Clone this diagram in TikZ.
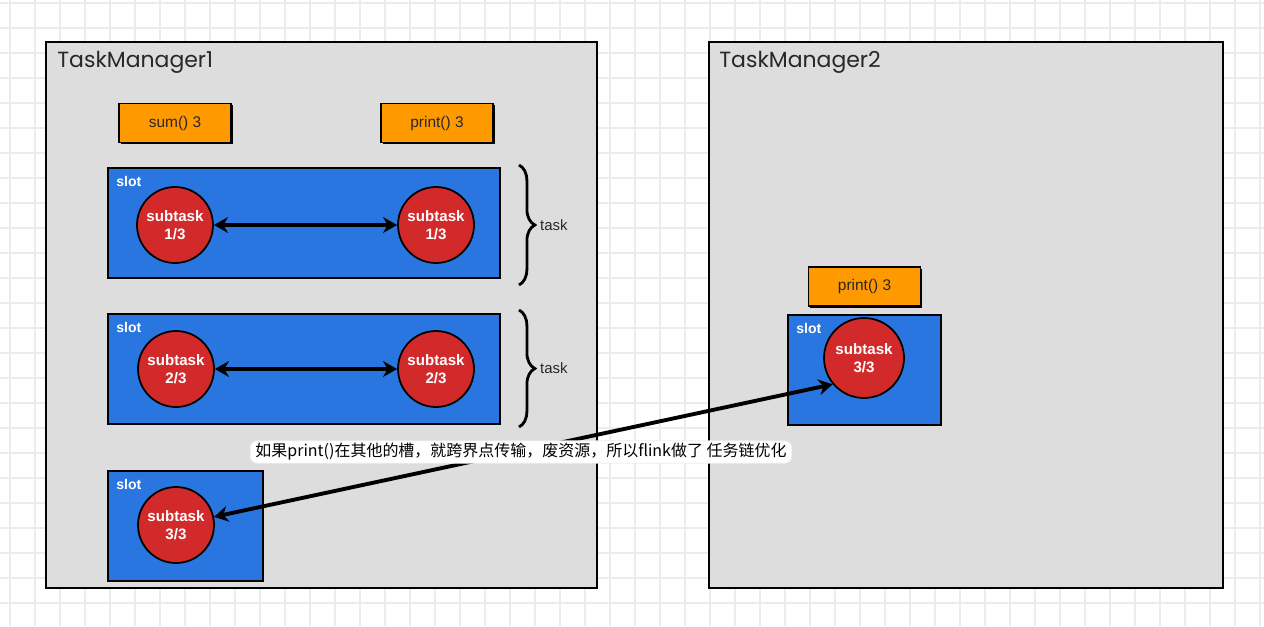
\documentclass[tikz,border=0pt]{standalone}
\usepackage{fontspec}
\setmainfont{Liberation Sans}
\newfontfamily\titlefont{Poppins}
\newfontfamily\cjk{Noto Sans CJK SC}
\usepackage{tikz}
\newcommand{\px}{0.02cm}
\definecolor{tmGray}{RGB}{221,221,221}
\definecolor{slotBlue}{RGB}{41,118,224}
\definecolor{taskRed}{RGB}{210,42,42}
\definecolor{opOrange}{RGB}{255,153,0}
\definecolor{gridGray}{RGB}{236,236,236}
\definecolor{inkGray}{RGB}{40,40,40}
\usetikzlibrary{arrows.meta,decorations.pathreplacing,positioning,shadows}
\tikzset{
  >={Stealth[length=8pt,width=9pt]},
  x=\px, y=-\px,
  font=\fontsize{8.5}{10}\selectfont,
  gridline/.style={draw=gridGray,line width=0.6pt},
  manager/.style={draw,fill=tmGray,line width=1.3pt},
  title/.style={anchor=west,inner sep=0,text=inkGray,font=\titlefont\fontsize{12.5}{14}\selectfont},
  op/.style={draw,fill=opOrange,line width=1pt,text=inkGray,minimum width=112*\px,minimum height=39*\px,
    font=\fontsize{8.8}{10}\selectfont,
    drop shadow={shadow xshift=0.035cm,shadow yshift=-0.035cm,opacity=1,fill=black}},
  slot/.style={draw,fill=slotBlue,line width=1.2pt,anchor=north west,minimum width=392*\px,minimum height=110*\px},
  slotname/.style={anchor=north west,inner sep=0,text=white,font=\bfseries\fontsize{8}{10}\selectfont},
  subtask/.style={draw,fill=taskRed,circle,line width=1pt,minimum size=76*\px,inner sep=0,align=center,
    text=white,font=\bfseries\fontsize{8.6}{10.5}\selectfont},
  link/.style={draw,<->,line width=2.2pt},
  group/.style={draw,line width=1.6pt,decorate,decoration={brace,amplitude=9pt}},
  note/.style={fill=white,draw=gridGray,rounded corners=4pt,inner xsep=3pt,inner ysep=1.5pt,
    font=\cjk\fontsize{9.1}{10}\selectfont},
}
\begin{document}
\begin{tikzpicture}
  \useasboundingbox (0,0) rectangle (1264,626);
  % background grid
  \foreach \gx in {10,35,...,1260} \draw[gridline] (\gx,0) -- (\gx,626);
  \foreach \gy in {3,28,...,626} \draw[gridline] (0,\gy) -- (1264,\gy);

  % task managers
  \draw[manager] (46,42) rectangle (597,588);
  \draw[manager] (709,42) rectangle (1223,588);
  \node[title] (tm1) at (57,62) {TaskManager1};
  \node[title] (tm2) at (719,62) {TaskManager2};

  % operators
  \node[op] (sum) at (175,123) {sum() 3};
  \node[op] (printA) at (437,123) {print() 3};

  % slots of TaskManager1
  \node[slot] (slotA) at (107,167) {};
  \node[slot] (slotB) at (107,313) {};
  \node[slot,minimum width=155*\px] (slotC) at (107,470) {};
  \node[slotname] at ([shift={(9,9)}]slotA.north west) {slot};
  \node[slotname] at ([shift={(9,9)}]slotB.north west) {slot};
  \node[slotname] at ([shift={(9,9)}]slotC.north west) {slot};

  \node[subtask] (stA1) at (175,225) {subtask\\1/3};
  \node[subtask] (stA2) at (436,225) {subtask\\1/3};
  \node[subtask] (stB1) at (176,369) {subtask\\2/3};
  \node[subtask] (stB2) at (436,369) {subtask\\2/3};
  \node[subtask] (stC1) at (176,525) {subtask\\3/3};
  \path[link] (stA1) -- (stA2);
  \path[link] (stB1) -- (stB2);

  % braces
  \draw[group] (519,165) -- (519,285) coordinate[midway] (braceA);
  \draw[group] (519,310) -- (519,427) coordinate[midway] (braceB);
  \node[right=0.3cm of braceA,text=inkGray] {task};
  \node[right=0.3cm of braceB,text=inkGray] {task};

  % slot of TaskManager2
  \node[slot,minimum width=153*\px] (slotD) at (787,314) {};
  \node[slotname] at ([shift={(9,9)}]slotD.north west) {slot};
  \node[op,above=0.14cm of slotD] (printB) {print() 3};
  \node[subtask,minimum size=80*\px] (stD1) at (864,358) {subtask\\3/3};

  \path[link] (stC1) -- (stD1.220);
  \node[note] (remark) at (521,452) {如果print()在其他的槽，就跨界点传输，废资源，所以flink做了 任务链优化};
\end{tikzpicture}
\end{document}
